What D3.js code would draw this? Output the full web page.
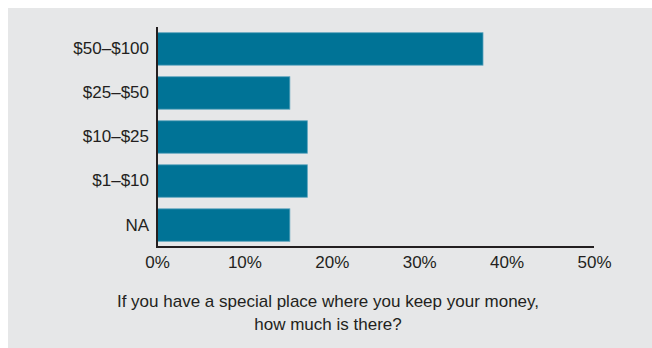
<!DOCTYPE html>
<html>
<head>
<meta charset="utf-8">
<script src="https://cdn.jsdelivr.net/npm/d3@7"></script>
<style>
  html, body { margin: 0; padding: 0; background: #ffffff; }
  svg { display: block; }
  text { font-family: "Liberation Sans", Arial, Helvetica, sans-serif; fill: #231f20; }
</style>
</head>
<body>
<svg id="chart" width="652" height="348"></svg>
<script>
const categories = ["$50–$100", "$25–$50", "$10–$25", "$1–$10", "NA"];
const values = [37.3, 15.2, 17.2, 17.2, 15.2];
const xTicks = [0, 10, 20, 30, 40, 50];
const captionLines = ["If you have a special place where you keep your money,", "how much is there?"];

(function () {
const svg = d3.select("#chart");
const W = 652, H = 348;

svg.append("rect").attr("x", 8).attr("y", 8).attr("width", W - 8).attr("height", H - 8).attr("fill", "#e6e7e8");

const mLeft = 157, mRight = 594, mTop = 27, mBottom = 247;

const x = d3.scaleLinear().domain([0, 50]).range([mLeft, mRight]);
const y = d3.scaleBand().domain(categories).range([mTop, mBottom]).paddingInner(0.263).paddingOuter(0.13);

svg.append("g").selectAll("rect").data(categories).join("rect")
  .attr("x", x(0))
  .attr("y", d => y(d))
  .attr("width", (d, i) => x(values[i]) - x(0))
  .attr("height", y.bandwidth())
  .attr("fill", "#007396")
  .attr("stroke", "#5aa3bd")
  .attr("stroke-width", 0.8);

const yAxis = d3.axisLeft(y).tickSize(0).tickPadding(8);
const gy = svg.append("g").attr("transform", `translate(${mLeft},0)`).call(yAxis);
gy.select(".domain").remove();
gy.selectAll("text").attr("font-size", 17).attr("font-family", "Liberation Sans, Arial, sans-serif").attr("fill", "#231f20");

const xAxis = d3.axisBottom(x).tickValues(xTicks).tickFormat(d => d + "%").tickSize(0).tickPadding(9);
const gx = svg.append("g").attr("transform", `translate(0,${mBottom})`).call(xAxis);
gx.select(".domain").remove();
gx.selectAll("text").attr("font-size", 17).attr("font-family", "Liberation Sans, Arial, sans-serif").attr("fill", "#231f20");

svg.append("path")
  .attr("d", `M${mLeft},${mTop} V${mBottom} H${mRight}`)
  .attr("fill", "none")
  .attr("stroke", "#231f20")
  .attr("stroke-width", 2);

svg.append("g").selectAll("text").data(captionLines).join("text")
  .attr("x", 328)
  .attr("y", (d, i) => 307 + i * 23)
  .attr("text-anchor", "middle")
  .attr("font-size", 17)
  .text(d => d);
})();
</script>
</body>
</html>
